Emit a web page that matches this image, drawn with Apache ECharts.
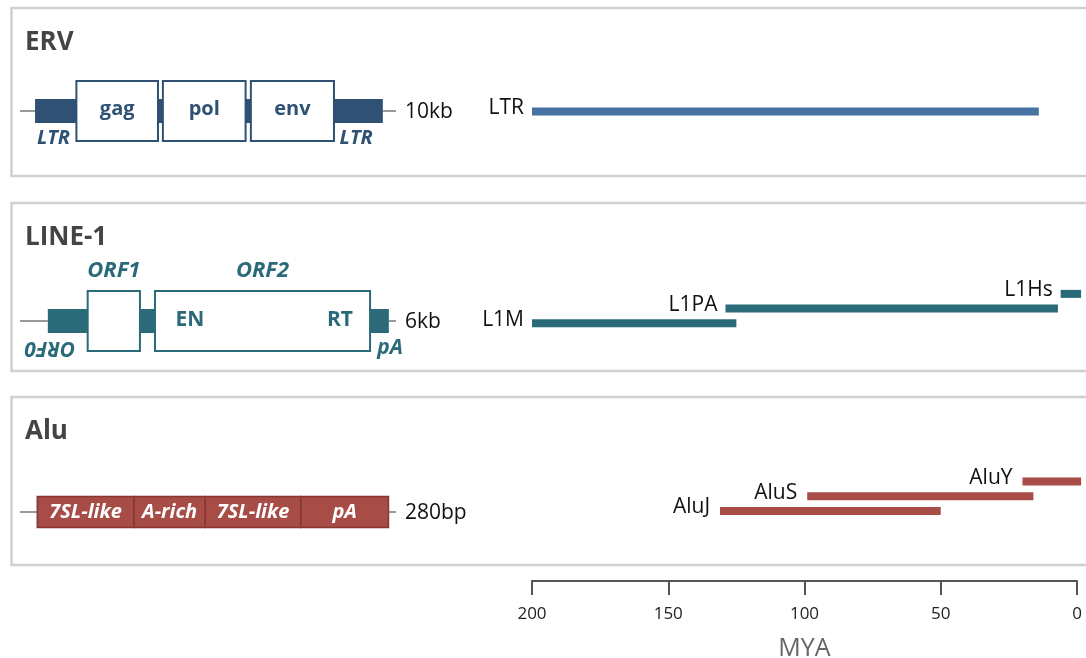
<!DOCTYPE html>
<html>
<head>
<meta charset="utf-8">
<script src="https://cdn.jsdelivr.net/npm/echarts@6/dist/echarts.min.js"></script>
<style>
  html, body { margin: 0; padding: 0; background: #ffffff; }
  #chart { width: 1086px; height: 658px; }
</style>
</head>
<body>
<div id="chart"></div>
<script>
// ---- Activity windows of each subfamily, in millions of years ago ----
const families = ['ERV', 'LINE-1', 'Alu'];
const elementSizes = ['10kb', '6kb', '280bp'];

const ervSubfamilies = ['LTR'];
const ervStart = [200];
const ervEnd = [14];
const ervLane = [0];

const l1Subfamilies = ['L1M', 'L1PA', 'L1Hs'];
const l1Start = [200, 129, 6];
const l1End = [125, 7, -1.5];
const l1Lane = [0, 1, 2];

const aluSubfamilies = ['AluJ', 'AluS', 'AluY'];
const aluStart = [131, 99, 20];
const aluEnd = [50, 16, -1.5];
const aluLane = [0, 1, 2];

const myaTicks = [200, 150, 100, 50, 0];

// ---- Element structure, relative units along each element (0-100) ----
const ervFlanks = [[0, 4], [96.5, 100]];
const ervBody = [[4, 96.5]];
const ervLtrs = [[4, 15], [83.5, 96.5]];
const ervGenes = ['gag', 'pol', 'env'];
const ervGeneSpans = [[15, 36.7], [38, 60], [61.4, 83.5]];

const l1Flanks = [[0, 7.4], [98.1, 100]];
const l1Body = [[7.4, 98.1]];
const l1Orfs = ['ORF1', 'ORF2'];
const l1OrfSpans = [[18, 31.9], [35.9, 93.1]];
const l1Domains = ['EN', 'RT'];
const l1DomainAt = [45.2, 85.1];
const l1EndNotes = ['ORF0', 'pA'];
const l1EndNoteAt = [8, 98.4];

const aluFlanks = [[0, 4.6], [98, 100]];
const aluParts = ['7SL-like', 'A-rich', '7SL-like', 'pA'];
const aluPartSpans = [[4.6, 30.3], [30.3, 49.3], [49.3, 74.7], [74.7, 98]];

// ---- Styling ----
const FONT = '"Open Sans", Lato, sans-serif';
const ERV_DARK = '#2f5174';
const ERV_BAR = '#4673a1';
const L1_TEAL = '#2b6b79';
const ALU_RED = '#a84c47';
const ALU_EDGE = '#87352f';
const FLANK = '#9a9a9a';

const panelTops = [8, 203, 397];
const panelHeight = 168;
const diagramCentre = [111, 321, 512];
const laneStep = 14.7;
const laneZero = [111.5, 323.3, 511];

const chart = echarts.init(document.getElementById('chart'), null, { renderer: 'canvas' });

// Grids 0-2: element diagrams; 3-5: timelines; 6: shared MYA axis
const grids = [];
const xAxes = [];
const yAxes = [];
diagramCentre.forEach((c, i) => {
  grids.push({ left: 20, width: 376, top: c - 50, height: 100, outerBoundsMode: 'none' });
  xAxes.push({ gridIndex: i, type: 'value', min: 0, max: 100, show: false });
  yAxes.push({ gridIndex: i, type: 'value', min: -1, max: 1, show: false });
});
laneZero.forEach((y0, i) => {
  grids.push({ left: 532, width: 545, top: y0 - 4 * laneStep, height: 4 * laneStep, outerBoundsMode: 'none' });
  xAxes.push({ gridIndex: 3 + i, type: 'value', min: 0, max: 200, inverse: true, show: false });
  yAxes.push({ gridIndex: 3 + i, type: 'value', min: 0, max: 4, show: false });
});
grids.push({ left: 532, width: 545, top: 561, height: 20, outerBoundsMode: 'none' });
xAxes.push({
  gridIndex: 6, type: 'value',
  min: Math.min(...myaTicks), max: Math.max(...myaTicks),
  interval: myaTicks[0] - myaTicks[1], inverse: true,
  name: 'MYA', nameLocation: 'middle', nameGap: 55,
  nameTextStyle: { fontFamily: FONT, fontSize: 25, color: '#666666' },
  axisLine: { show: true, lineStyle: { color: '#555555', width: 2 } },
  axisTick: { show: true, length: 14, lineStyle: { color: '#555555', width: 2 } },
  axisLabel: { show: true, margin: 25, fontFamily: FONT, fontSize: 17, color: '#222222', showMinLabel: true, showMaxLabel: true },
  splitLine: { show: false }
});
yAxes.push({ gridIndex: 6, type: 'value', show: false });

function ends(api) {
  const a = api.coord([api.value(0), 0]);
  const b = api.coord([api.value(1), 0]);
  return { x0: Math.min(a[0], b[0]), x1: Math.max(a[0], b[0]), y: a[1] };
}

function textEl(x, y, text, opts) {
  return {
    type: 'text',
    x: x, y: y,
    rotation: opts.rotation || 0,
    style: {
      text: text,
      fill: opts.color,
      fontFamily: FONT,
      fontSize: opts.size || 17,
      fontWeight: opts.weight || 'bold',
      fontStyle: opts.italic ? 'italic' : 'normal',
      align: opts.align || 'center',
      verticalAlign: opts.valign || 'middle'
    }
  };
}

const series = [];

// Thin grey flanking lines
function flankSeries(gi, spans) {
  series.push({
    type: 'custom', xAxisIndex: gi, yAxisIndex: gi, silent: true,
    data: spans,
    renderItem: (p, api) => {
      const e = ends(api);
      return { type: 'line', shape: { x1: e.x0, y1: e.y, x2: e.x1, y2: e.y }, style: { stroke: FLANK, lineWidth: 2 } };
    }
  });
}
// Filled element body
function bodySeries(gi, spans, color, h) {
  series.push({
    type: 'custom', xAxisIndex: gi, yAxisIndex: gi, silent: true,
    data: spans,
    renderItem: (p, api) => {
      const e = ends(api);
      return { type: 'rect', shape: { x: e.x0, y: e.y - h / 2, width: e.x1 - e.x0, height: h }, style: { fill: color } };
    }
  });
}
// Open reading frame boxes, optional inner name and name above
function boxSeries(gi, spans, names, color, inside) {
  series.push({
    type: 'custom', xAxisIndex: gi, yAxisIndex: gi, silent: true,
    data: spans,
    renderItem: (p, api) => {
      const e = ends(api);
      const kids = [{ type: 'rect', shape: { x: e.x0, y: e.y - 30, width: e.x1 - e.x0, height: 60 }, style: { fill: '#ffffff', stroke: color, lineWidth: 2 } }];
      const cx = (e.x0 + e.x1) / 2;
      if (inside) kids.push(textEl(cx, e.y - 2, names[p.dataIndex], { color: color, size: 20 }));
      else kids.push(textEl(cx, e.y - 50, names[p.dataIndex], { color: color, size: 22, italic: true }));
      return { type: 'group', children: kids };
    }
  });
}
// Loose text labels at a position along the element
function noteSeries(gi, at, names, color, dy, size, italic, flipFirst) {
  series.push({
    type: 'custom', xAxisIndex: gi, yAxisIndex: gi, silent: true,
    data: at.map(v => [v, v]),
    renderItem: (p, api) => {
      const e = ends(api);
      const flip = flipFirst && p.dataIndex === 0;
      return textEl(e.x0, e.y + dy, names[p.dataIndex], { color: color, size: size, italic: italic, rotation: flip ? Math.PI : 0 });
    }
  });
}
// Element length note after the right flank
function sizeSeries(gi, label) {
  series.push({
    type: 'custom', xAxisIndex: gi, yAxisIndex: gi, silent: true,
    data: [[100, 100]],
    renderItem: (p, api) => {
      const e = ends(api);
      return textEl(e.x1 + 9, e.y + 1, label, { color: '#111111', size: 21, weight: 'normal', align: 'left' });
    }
  });
}

// ERV
flankSeries(0, ervFlanks);
bodySeries(0, ervBody, ERV_DARK, 24);
boxSeries(0, ervGeneSpans, ervGenes, ERV_DARK, true);
noteSeries(0, ervLtrs.map(s => (s[0] + s[1]) / 2 - 0.6), ['LTR', 'LTR'], ERV_DARK, 27, 20, true, false);
sizeSeries(0, elementSizes[0]);

// LINE-1
flankSeries(1, l1Flanks);
bodySeries(1, l1Body, L1_TEAL, 24);
boxSeries(1, l1OrfSpans, l1Orfs, L1_TEAL, false);
noteSeries(1, l1DomainAt, l1Domains, L1_TEAL, -1, 21, false, false);
noteSeries(1, l1EndNoteAt, l1EndNotes, L1_TEAL, 27, 21, true, true);
sizeSeries(1, elementSizes[1]);

// Alu
flankSeries(2, aluFlanks);
series.push({
  type: 'custom', xAxisIndex: 2, yAxisIndex: 2, silent: true,
  data: aluPartSpans,
  renderItem: (p, api) => {
    const e = ends(api);
    return {
      type: 'group', children: [
        { type: 'rect', shape: { x: e.x0, y: e.y - 15.5, width: e.x1 - e.x0, height: 31 }, style: { fill: ALU_RED, stroke: ALU_EDGE, lineWidth: 1.5 } },
        textEl((e.x0 + e.x1) / 2, e.y, aluParts[p.dataIndex], { color: '#ffffff', size: 20, italic: true })
      ]
    };
  }
});
sizeSeries(2, elementSizes[2]);

// Timelines
function timelineSeries(gi, names, starts, endsArr, lanes, color, gap) {
  series.push({
    type: 'custom', xAxisIndex: gi, yAxisIndex: gi, silent: true, clip: false,
    data: names.map((n, i) => [starts[i], endsArr[i], lanes[i]]),
    renderItem: (p, api) => {
      const a = api.coord([api.value(0), api.value(2)]);
      const b = api.coord([api.value(1), api.value(2)]);
      const x0 = Math.min(a[0], b[0]), x1 = Math.max(a[0], b[0]);
      return {
        type: 'group', children: [
          { type: 'rect', shape: { x: x0, y: a[1] - 4, width: x1 - x0, height: 8 }, style: { fill: color } },
          textEl(x0 - gap, a[1] + 7, names[p.dataIndex], { color: '#111111', size: 21, weight: 'normal', align: 'right', valign: 'bottom' })
        ]
      };
    }
  });
}
timelineSeries(3, ervSubfamilies, ervStart, ervEnd, ervLane, ERV_BAR, 8);
timelineSeries(4, l1Subfamilies, l1Start, l1End, l1Lane, L1_TEAL, 8);
timelineSeries(5, aluSubfamilies, aluStart, aluEnd, aluLane, ALU_RED, 10);

chart.setOption({
  animation: false,
  backgroundColor: '#ffffff',
  textStyle: { fontFamily: FONT },
  title: families.map((f, i) => ({
    text: f, left: 25, top: panelTops[i] + 22, padding: 0,
    textStyle: { fontFamily: FONT, fontSize: 26, fontWeight: 'bold', color: '#444444' }
  })),
  graphic: {
    elements: panelTops.map(t => ({
      type: 'rect', z: -10, silent: true,
      shape: { x: 11.5, y: t, width: 1100, height: panelHeight },
      style: { fill: 'none', stroke: '#d0d0d0', lineWidth: 2.5 }
    }))
  },
  grid: grids,
  xAxis: xAxes,
  yAxis: yAxes,
  series: series
});
</script>
</body>
</html>
